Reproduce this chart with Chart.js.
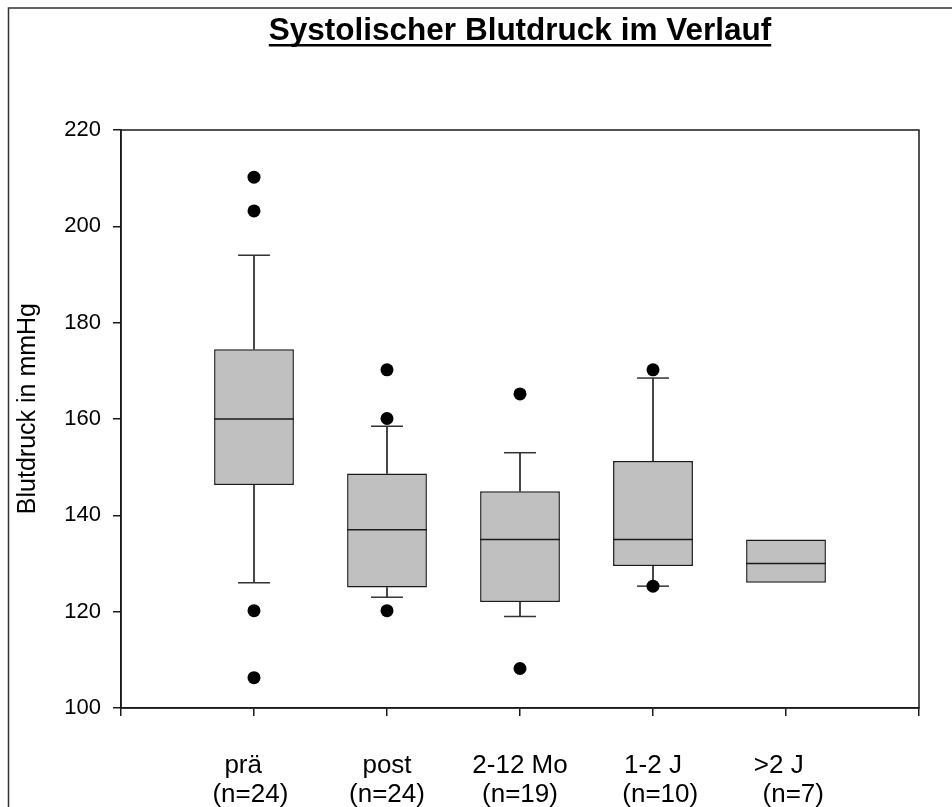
<!DOCTYPE html>
<html>
<head>
<meta charset="utf-8">
<script src="https://cdn.jsdelivr.net/npm/chart.js@4.4.1/dist/chart.umd.min.js"></script>
<style>
  html, body { margin: 0; padding: 0; background: #fff; }
  #wrap { position: relative; width: 952px; height: 807px; }
</style>
</head>
<body>
<div id="wrap"><canvas id="chart" width="952" height="807"></canvas></div>
<script>
'use strict';

// ── Data ──────────────────────────────────────────────────────
const GROUPS   = ['prä   ', 'post', '2-12 Mo', '1-2 J', '>2 J  '];
const N_LABELS = ['(n=24) ', '(n=24)', '(n=19)', '  (n=10)', '  (n=7)'];
const Q1       = [146.3, 125.0, 122.0, 129.5, 126.0];
const MEDIAN   = [160.0, 137.0, 135.0, 135.0, 130.0];
const Q3       = [174.5, 148.7, 145.0, 151.3, 135.0];
const W_LOW    = [126.0, 123.0, 119.0, 125.3, null];
const W_HIGH   = [194.0, 158.5, 153.0, 168.5, null];
const OUTLIERS = [
  [210.2, 203.2, 120.2, 106.3],
  [170.2, 160.1, 120.2],
  [165.2, 108.2],
  [170.2, 125.3],
  []
];
const Y_MIN = 100, Y_MAX = 220, Y_STEP = 20;

const TITLE  = 'Systolischer Blutdruck im Verlauf';
const Y_TITLE = '   Blutdruck in mmHg';

// ── Helpers ───────────────────────────────────────────────────
const FONT = "'Liberation Sans', Arial, sans-serif";
const INK = '#1a1a1a';
const pos = (i) => i + 1;

const boxes = Q1.map((q, i) => ({ x: pos(i), y: [q, Q3[i]] }));
const medians = MEDIAN.map((m, i) => ({ x: pos(i), y: m }));
const lowWhisk = [], highWhisk = [], caps = [];
W_LOW.forEach((w, i) => {
  if (w == null) return;
  lowWhisk.push({ x: pos(i), y: [w, Q1[i]] });
  caps.push({ x: pos(i), y: w });
});
W_HIGH.forEach((w, i) => {
  if (w == null) return;
  highWhisk.push({ x: pos(i), y: [Q3[i], w] });
  caps.push({ x: pos(i), y: w });
});
const dots = [];
OUTLIERS.forEach((arr, i) => arr.forEach(v => dots.push({ x: pos(i), y: v })));

// half of a box / cap width, in x units, turned into pixels by the scale
const halfWidth = (units) => (ctx) => {
  const x = ctx.chart.scales.x;
  if (!x || !isFinite(x.getPixelForValue(units))) return 40;
  return x.getPixelForValue(units) - x.getPixelForValue(0);
};

// ── Plugins ───────────────────────────────────────────────────
const framePlugin = {
  id: 'frame',
  beforeDraw(chart) {
    const c = chart.ctx;
    c.save();
    c.strokeStyle = '#333';
    c.lineWidth = 1.5;
    c.beginPath();
    c.moveTo(8.5, chart.height);
    c.lineTo(8.5, 8);
    c.lineTo(chart.width, 8);
    c.stroke();
    c.restore();
  },
  afterDraw(chart) {
    const { ctx: c, chartArea: a } = chart;
    c.save();
    c.strokeStyle = INK;
    c.lineWidth = 1.5;
    c.strokeRect(a.left, a.top, a.right - a.left, a.bottom - a.top);
    // title, underlined
    c.font = `bold 31.5px ${FONT}`;
    c.fillStyle = '#000';
    c.textAlign = 'center';
    c.textBaseline = 'alphabetic';
    const cx = (a.left + a.right) / 2;
    c.fillText(TITLE, cx, 40);
    const w = c.measureText(TITLE).width;
    c.fillRect(cx - w / 2, 44, w, 2.5);
    c.restore();
  }
};

// ── Chart ─────────────────────────────────────────────────────
new Chart(document.getElementById('chart'), {
  type: 'bar',
  data: {
    datasets: [
      {
        type: 'scatter', data: dots, order: 0,
        pointStyle: 'circle', pointRadius: 6.5,
        backgroundColor: '#000', borderColor: '#000', borderWidth: 0
      },
      {
        type: 'scatter', data: medians, order: 1,
        pointStyle: 'line', pointRadius: halfWidth(0.3),
        borderColor: INK, borderWidth: 1.5
      },
      {
        type: 'scatter', data: caps, order: 2,
        pointStyle: 'line', pointRadius: halfWidth(0.12),
        borderColor: '#333', borderWidth: 1.5
      },
      {
        data: boxes, order: 3, grouped: false,
        barPercentage: 0.6, categoryPercentage: 1,
        backgroundColor: '#c0c0c0', borderColor: INK,
        borderWidth: 1.5, borderSkipped: false
      },
      {
        data: lowWhisk, order: 4, grouped: false,
        barThickness: 1.3, backgroundColor: '#444', borderWidth: 0
      },
      {
        data: highWhisk, order: 4, grouped: false,
        barThickness: 1.3, backgroundColor: '#444', borderWidth: 0
      }
    ]
  },
  options: {
    responsive: false,
    animation: false,
    events: [],
    layout: { autoPadding: false, padding: { top: 130, right: 33, left: 0, bottom: 0 } },
    plugins: { legend: { display: false }, tooltip: { enabled: false }, title: { display: false } },
    scales: {
      x: {
        type: 'linear', min: 0, max: 6, offset: false,
        afterFit: (s) => { s.height = 99; s.paddingLeft = 0; s.paddingRight = 0; },
        border: { display: true, color: INK, width: 1.5 },
        grid: { offset: false, drawOnChartArea: false, drawTicks: true, tickLength: 8, color: INK, lineWidth: 1.5 },
        ticks: {
          stepSize: 1, autoSkip: false, maxRotation: 0, padding: 35,
          color: '#000', font: { family: FONT, size: 26, lineHeight: 1.13 },
          callback: (v) => (v >= 1 && v <= GROUPS.length) ? [GROUPS[v - 1], N_LABELS[v - 1]] : ''
        }
      },
      y: {
        min: Y_MIN, max: Y_MAX,
        afterFit: (s) => { s.width = 121; s.paddingTop = 0; s.paddingBottom = 0; },
        border: { display: true, color: INK, width: 1.5 },
        grid: { drawOnChartArea: false, drawTicks: true, tickLength: 8, color: INK, lineWidth: 1.5 },
        ticks: {
          stepSize: Y_STEP, autoSkip: false, padding: 12,
          color: '#000', font: { family: FONT, size: 22 }
        },
        title: {
          display: true, text: Y_TITLE, color: '#000',
          font: { family: FONT, size: 25 }, padding: { top: 13, bottom: 0 }
        }
      }
    }
  },
  plugins: [framePlugin]
});
</script>
</body>
</html>
